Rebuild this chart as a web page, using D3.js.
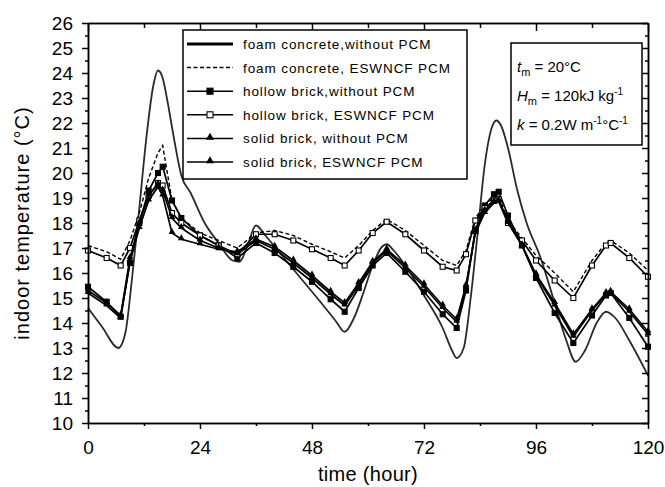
<!DOCTYPE html>
<html>
<head>
<meta charset="utf-8">
<script src="https://cdn.jsdelivr.net/npm/d3@7"></script>
<style>
  body { margin: 0; background: #fff; }
  text { font-family: "Liberation Sans", Arial, sans-serif; fill: #000; }
</style>
</head>
<body>
<svg id="chart"></svg>
<script>
var hours = [0, 4, 7, 9, 11, 13, 15, 16, 18, 20, 24, 28, 32, 36, 40, 44, 48, 52, 55, 58,
             61, 64, 68, 72, 76, 79, 81, 83, 85, 87, 88, 90, 93, 96, 100, 104, 108, 111, 112, 116, 120];

// foam concrete without PCM is a smooth curve, read at its own hours
var foamHours = [0, 3, 6.5, 8, 9.5, 11, 12.5, 14, 15, 16, 17, 18.5, 20, 22, 25, 28, 31, 32.5, 34, 36,
                 38, 42, 46, 50, 53, 55, 57, 59, 61, 63, 64, 65.5, 68, 72, 76, 78, 79, 80.5, 82, 83.5,
                 85, 86.5, 87.5, 88.5, 90, 92, 94, 97, 100, 102.5, 104.5, 106.5, 109, 111, 113, 116, 120];
var foamWithout = [14.6, 13.85, 13.0, 13.6, 15.9, 18.6, 21.4, 23.5, 24.1, 23.8, 22.9, 21.3, 19.9, 19.2, 18.0, 17.2, 16.5, 16.45, 17.0, 17.9,
                   17.5, 16.6, 15.7, 14.8, 14.1, 13.65, 14.2, 15.2, 16.3, 17.05, 17.15, 16.9, 16.3, 15.1, 13.8, 12.9, 12.6, 13.0, 15.0, 17.6,
                   20.3, 21.8, 22.1, 21.9, 21.0, 19.3, 18.0, 16.6, 14.8, 13.3, 12.45, 12.9, 14.0, 14.45, 14.2, 13.3, 11.9];

var foamEswncf = [17.1, 16.85, 16.55, 17.3, 18.4, 19.8, 20.8, 21.1, 18.9, 18.2, 17.6, 17.3, 17.0, 17.6, 17.7, 17.5, 17.15, 16.85, 16.6, 17.1,
                  17.7, 18.15, 17.7, 17.1, 16.5, 16.3, 16.9, 18.2, 18.7, 19.0, 19.1, 18.1, 17.4, 16.7, 16.0, 15.25, 16.5, 17.2, 17.3, 16.8, 16.1];
var hollowWithout = [15.45, 14.85, 14.25, 16.4, 18.0, 19.3, 20.0, 20.25, 18.9, 18.2, 17.5, 17.1, 16.6, 17.2, 16.8, 16.25, 15.65, 14.95, 14.45, 15.4,
                     16.3, 16.8, 16.05, 15.25, 14.35, 13.8, 15.3, 17.7, 18.7, 19.15, 19.25, 18.3, 17.1, 15.8, 14.4, 13.2, 14.3, 15.1, 15.2, 14.2, 13.05];
var hollowEswncf = [16.9, 16.6, 16.3, 17.0, 18.1, 19.1, 19.6, 19.5, 18.4, 18.0, 17.5, 17.1, 16.75, 17.55, 17.55, 17.3, 16.95, 16.6, 16.3, 16.9,
                    17.6, 18.05, 17.55, 16.9, 16.25, 16.1, 16.75, 18.1, 18.6, 18.9, 18.95, 18.0, 17.3, 16.5, 15.7, 15.0, 16.3, 17.1, 17.2, 16.6, 15.85];
var solidWithout = [15.3, 14.8, 14.3, 16.6, 18.0, 19.1, 19.55, 19.3, 18.2, 17.8, 17.3, 17.0, 16.75, 17.3, 16.95, 16.4, 15.8, 15.15, 14.7, 15.5,
                    16.4, 16.9, 16.2, 15.45, 14.6, 14.05, 15.45, 17.7, 18.5, 18.85, 18.9, 18.1, 17.1, 15.9, 14.7, 13.45, 14.5, 15.15, 15.2, 14.45, 13.55];
var solidEswncf = [15.2, 14.7, 14.2, 16.5, 17.8, 18.9, 19.45, 19.1, 17.6, 17.35, 17.15, 16.95, 16.85, 17.35, 17.05, 16.5, 15.9, 15.25, 14.8, 15.6,
                   16.45, 16.95, 16.3, 15.55, 14.7, 14.15, 15.5, 17.6, 18.4, 18.8, 18.85, 18.0, 17.1, 15.95, 14.8, 13.55, 14.55, 15.2, 15.25, 14.55, 13.65];

var seriesNames = ["foam concrete,without PCM", "foam concrete, ESWNCF PCM", "hollow brick,without PCM",
                   "hollow brick, ESWNCF PCM", "solid brick, without PCM", "solid brick, ESWNCF PCM"];
var xTicks = [0, 24, 48, 72, 96, 120];
var yTicks = d3.range(10, 27, 1);

var dimensions = {
    width: 665,
    height: 487,
    margin: { top: 23, bottom: 64, right: 17, left: 88 }
};

// series table: values plus how each one is drawn
var series = [
    { name: seriesNames[0], x: foamHours, y: foamWithout, dash: null, marker: null, curve: d3.curveMonotoneX, color: "#2a2a2a", width: 1.8 },
    { name: seriesNames[1], x: hours, y: foamEswncf, dash: "4,2.5", marker: null, curve: d3.curveLinear, color: "#000", width: 1.4 },
    { name: seriesNames[2], x: hours, y: hollowWithout, dash: null, marker: "filledSquare", curve: d3.curveLinear, color: "#000", width: 1.7 },
    { name: seriesNames[3], x: hours, y: hollowEswncf, dash: null, marker: "openSquare", curve: d3.curveLinear, color: "#000", width: 1.7 },
    { name: seriesNames[4], x: hours, y: solidWithout, dash: null, marker: "triangle", curve: d3.curveLinear, color: "#000", width: 1.7 },
    { name: seriesNames[5], x: hours, y: solidEswncf, dash: null, marker: "triangle", curve: d3.curveLinear, color: "#000", width: 1.7 }
];

var svg = d3.select("#chart")
    .attr("width", dimensions.width)
    .attr("height", dimensions.height);

var x0 = dimensions.margin.left, x1 = dimensions.width - dimensions.margin.right;
var y0 = dimensions.height - dimensions.margin.bottom, y1 = dimensions.margin.top;

var xScale = d3.scaleLinear().domain([0, 120]).range([x0, x1]);
var yScale = d3.scaleLinear().domain([10, 26]).range([y0, y1]);

// draw a marker of the given kind at (cx, cy)
function drawMarker(g, kind, cx, cy, s) {
    if (kind === "filledSquare" || kind === "openSquare") {
        g.append("rect")
            .attr("x", cx - s / 2).attr("y", cy - s / 2)
            .attr("width", s).attr("height", s)
            .attr("fill", kind === "filledSquare" ? "#000" : "#fff")
            .attr("stroke", "#000").attr("stroke-width", 1.1);
    } else if (kind === "triangle") {
        g.append("path")
            .attr("transform", "translate(" + cx + "," + (cy - 1) + ")")
            .attr("d", d3.symbol().type(d3.symbolTriangle).size(s * s * 0.8)())
            .attr("fill", "#000");
    }
}

// curves
var plot = svg.append("g");
series.forEach(function(s) {
    var pts = s.x.map(function(h, i) { return [h, s.y[i]]; });
    var line = d3.line()
        .x(function(d) { return xScale(d[0]); })
        .y(function(d) { return yScale(d[1]); })
        .curve(s.curve);
    plot.append("path")
        .datum(pts)
        .attr("d", line)
        .attr("fill", "none")
        .attr("stroke", s.color)
        .attr("stroke-width", s.width)
        .attr("stroke-dasharray", s.dash);
    if (s.marker) {
        var mg = plot.append("g");
        pts.forEach(function(d) { drawMarker(mg, s.marker, xScale(d[0]), yScale(d[1]), 5); });
    }
});

// axes
var halfTicks = d3.range(10.5, 26, 1);
var minorX = [12, 36, 60, 84, 108];

svg.append("g")
    .attr("transform", "translate(0," + y0 + ")")
    .call(d3.axisBottom(xScale).tickValues(xTicks).tickSize(6).tickSizeOuter(0).tickPadding(12).tickFormat(d3.format("d")));
svg.append("g")
    .attr("transform", "translate(0," + y0 + ")")
    .call(d3.axisBottom(xScale).tickValues(minorX).tickSize(3).tickSizeOuter(0).tickFormat(""));
svg.append("g")
    .attr("transform", "translate(0," + y1 + ")")
    .call(d3.axisBottom(xScale).tickValues(xTicks).tickSize(8).tickSizeOuter(0).tickFormat(""));
svg.append("g")
    .attr("transform", "translate(0," + y1 + ")")
    .call(d3.axisBottom(xScale).tickValues(minorX).tickSize(5).tickSizeOuter(0).tickFormat(""));

svg.append("g")
    .attr("transform", "translate(" + x0 + ",0)")
    .call(d3.axisLeft(yScale).tickValues(yTicks).tickSize(6).tickSizeOuter(0).tickPadding(9).tickFormat(d3.format("d")));
svg.append("g")
    .attr("transform", "translate(" + x0 + ",0)")
    .call(d3.axisLeft(yScale).tickValues(halfTicks).tickSize(3).tickSizeOuter(0).tickFormat(""));
svg.append("g")
    .attr("transform", "translate(" + x1 + ",0)")
    .call(d3.axisLeft(yScale).tickValues(yTicks).tickSize(6).tickSizeOuter(0).tickFormat(""));
svg.append("g")
    .attr("transform", "translate(" + x1 + ",0)")
    .call(d3.axisLeft(yScale).tickValues(halfTicks).tickSize(3).tickSizeOuter(0).tickFormat(""));

svg.selectAll(".domain, .tick line").attr("stroke", "#000").attr("stroke-width", 1.5);
svg.selectAll(".tick text").style("font-size", "19px").attr("fill", "#000");

// axis titles
svg.append("text")
    .attr("x", (x0 + x1) / 2)
    .attr("y", 481)
    .style("text-anchor", "middle")
    .style("font-size", "20px")
    .style("letter-spacing", "0.3px")
    .text("time (hour)");

svg.append("text")
    .attr("transform", "rotate(-90)")
    .attr("x", -(y0 + y1) / 2)
    .attr("y", 29)
    .style("text-anchor", "middle")
    .style("font-size", "20px")
    .style("letter-spacing", "1px")
    .text("indoor temperature (°C)");

// legend
var legend = svg.append("g");
legend.append("rect")
    .attr("x", 183).attr("y", 30).attr("width", 284).attr("height", 149)
    .attr("fill", "#fff").attr("stroke", "#000").attr("stroke-width", 1.5);
series.forEach(function(s, i) {
    var ly = 44 + i * 23.6;
    legend.append("line")
        .attr("x1", 187).attr("x2", 233).attr("y1", ly).attr("y2", ly)
        .attr("stroke", "#000")
        .attr("stroke-width", i === 0 ? 3 : 1.5)
        .attr("stroke-dasharray", s.dash);
    if (s.marker) drawMarker(legend, s.marker, 210, ly, 6);
    legend.append("text")
        .attr("x", 243).attr("y", ly + 5)
        .style("font-size", "13.5px")
        .style("letter-spacing", "0.9px")
        .text(s.name);
});

// parameter box
var info = svg.append("g");
info.append("rect")
    .attr("x", 511).attr("y", 43).attr("width", 131).attr("height", 102)
    .attr("fill", "#fff").attr("stroke", "#000").attr("stroke-width", 1.5);

var t1 = info.append("text").attr("x", 517).attr("y", 72).style("font-size", "15px");
t1.append("tspan").style("font-style", "italic").text("t");
t1.append("tspan").attr("dy", 4).style("font-size", "11px").text("m");
t1.append("tspan").attr("dy", -4).text(" = 20°C");

var t2 = info.append("text").attr("x", 517).attr("y", 101).style("font-size", "15px");
t2.append("tspan").style("font-style", "italic").text("H");
t2.append("tspan").attr("dy", 4).style("font-size", "11px").text("m");
t2.append("tspan").attr("dy", -4).text(" = 120kJ kg");
t2.append("tspan").attr("dy", -6).style("font-size", "10px").text("-1");

var t3 = info.append("text").attr("x", 517).attr("y", 130).style("font-size", "15px");
t3.append("tspan").style("font-style", "italic").text("k");
t3.append("tspan").text(" = 0.2W m");
t3.append("tspan").attr("dy", -6).style("font-size", "10px").text("-1");
t3.append("tspan").attr("dy", 6).text("°C");
t3.append("tspan").attr("dy", -6).style("font-size", "10px").text("-1");
</script>
</body>
</html>
